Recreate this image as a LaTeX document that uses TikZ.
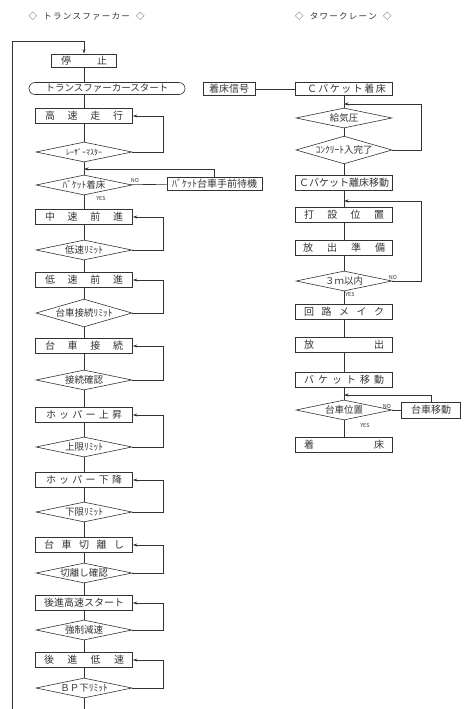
\documentclass[tikz,border=0pt]{standalone}
\usepackage{fontspec}
\setmainfont{Noto Sans CJK JP}
\usepackage{tikz}
\usetikzlibrary{arrows.meta,shapes.geometric}
\newcommand{\spread}[2]{\makebox[#1][s]{#2}}

\begin{document}
\begin{tikzpicture}[x=1pt, y=-1pt,
    proc/.style={draw, minimum width=97pt, minimum height=15pt, inner sep=1pt, font=\fontsize{10}{12}\selectfont},
    decision/.style={draw, diamond, minimum width=96pt, minimum height=20pt, inner xsep=-15pt, inner ysep=-4pt, font=\fontsize{9.5}{11}\selectfont},
    yn/.style={font=\fontsize{5.5}{6}\selectfont},
    color=black!80, line width=0.6pt,
    >={Stealth[length=4.5pt,width=3pt]}
]
\useasboundingbox (0,0) rectangle (463,709);

\node[font=\fontsize{8.5}{10}\selectfont] (ttlL) at (86,16) {\spread{115pt}{◇\hspace{5pt} ト ラ ン ス フ ァ ー カ ー \hspace{5pt}◇}};
\node[font=\fontsize{8.5}{10}\selectfont] (ttlR) at (341,16) {\spread{92pt}{◇\hspace{5pt} タ ワ ー ク レ ー ン \hspace{5pt}◇}};

\node[proc, minimum width=65pt, minimum height=13pt] (stop) at (84,60.5) {\spread{46pt}{停 止}};
\node[draw, rounded corners=6pt, minimum width=156pt, minimum height=12pt, inner sep=0pt, font=\fontsize{9.5}{11}\selectfont] (start) at (107,88.5) {トランスファーカースタート};
\node[proc] (fast) at (84,116) {\spread{78pt}{高 速 走 行}};
\node[decision, font=\fontsize{8}{9}\selectfont] (laser) at (84,152) {ﾚｰｻﾞｰﾏｽﾀｰ};
\node[decision] (bland) at (84,185) {ﾊﾞｹｯﾄ着床};
\node[proc, minimum width=95pt, minimum height=13pt] (wait) at (214.5,184) {ﾊﾞｹｯﾄ台車手前待機};
\node[proc] (mid) at (84,217) {\spread{78pt}{中 速 前 進}};
\node[decision] (lowlim) at (84,250) {低速ﾘﾐｯﾄ};
\node[proc] (low) at (84,280) {\spread{78pt}{低 速 前 進}};
\node[decision] (linklim) at (84,313) {台車接続ﾘﾐｯﾄ};
\node[proc] (link) at (84,346) {\spread{78pt}{台 車 接 続}};
\node[decision] (linkok) at (84,380) {接続確認};
\node[proc] (hopup) at (84,415) {\spread{76pt}{ホ ッ パ ー 上 昇}};
\node[decision] (uplim) at (84,447) {上限ﾘﾐｯﾄ};
\node[proc] (hopdn) at (84,480) {\spread{76pt}{ホ ッ パ ー 下 降}};
\node[decision] (dnlim) at (84,512) {下限ﾘﾐｯﾄ};
\node[proc] (cut) at (84,545) {\spread{80pt}{台 車 切 離 し}};
\node[decision] (cutok) at (84,573) {切離し確認};
\node[proc] (back) at (84,603) {後進高速スタート};
\node[decision] (brake) at (84,630) {強制減速};
\node[proc] (backlow) at (84,660) {\spread{80pt}{後 進 低 速}};
\node[decision] (bplim) at (84,688) {ＢＰ下ﾘﾐｯﾄ};

\coordinate (bj) at (84,169);
\coordinate (ltop) at (84,41);
\coordinate (lbot) at (12,709);
\coordinate (bot) at (84,709);

\draw (stop) -- (stop |- start.north);
\draw (start.south -| fast) -- (fast);
\foreach \a/\b in {fast/laser, laser/bland, bland/mid, mid/lowlim, lowlim/low, low/linklim, linklim/link, link/linkok, linkok/hopup, hopup/uplim, uplim/hopdn, hopdn/dnlim, dnlim/cut, cut/cutok, cutok/back, back/brake, brake/backlow, backlow/bplim}
    \draw (\a) -- (\b);
\draw (bplim) -- (bot);
\draw[->] (lbot) |- (ltop) -- (stop);

\foreach \d/\b in {laser/fast, lowlim/mid, linklim/low, linkok/link, uplim/hopup, dnlim/hopdn, cutok/cut, brake/back, bplim/backlow}
    \draw[->] (\d.east) -- +(31,0) |- (\b.east);

\draw (bland) -- (wait);
\draw[->] (wait.north) |- (bj);
\node[yn] (no1) at (135,180) {NO};
\node[yn] (yes1) at (101,198) {YES};

\node[proc, minimum width=52pt, minimum height=13pt] (sig) at (229,89) {着床信号};
\node[proc, minimum height=13pt] (cland) at (344,89) {\spread{74pt}{Ｃ バ ケ ッ ト 着 床}};
\node[decision] (air) at (344,118) {給気圧};
\node[decision] (conc) at (344,150) {ｺﾝｸﾘｰﾄ入完了};
\node[proc] (crise) at (344,183) {Ｃバケット離床移動};
\node[proc] (pour) at (344,215) {\spread{80pt}{打 設 位 置}};
\node[proc] (prep) at (344,248) {\spread{82pt}{放 出 準 備}};
\node[decision] (dist) at (344,281) {３ｍ以内};
\node[proc] (circ) at (344,312) {\spread{80pt}{回 路 メ イ ク}};
\node[proc] (rel) at (344,345) {\spread{80pt}{放 出}};
\node[proc] (bmove) at (344,380) {\spread{80pt}{バ ケ ッ ト 移 動}};
\node[decision] (cpos) at (344,410) {台車位置};
\node[proc, minimum width=59pt, minimum height=16pt] (cmove) at (431,410) {台車移動};
\node[proc] (land) at (344,445) {\spread{80pt}{着 床}};

\coordinate (rj1) at (344,104);
\coordinate (rj2) at (344,201);
\coordinate (rj3) at (344,395);

\draw (sig) -- (cland);
\foreach \a/\b in {cland/air, air/conc, conc/crise, crise/pour, pour/prep, prep/dist, dist/circ, circ/rel, rel/bmove, bmove/cpos, cpos/land}
    \draw (\a) -- (\b);
\draw[->] (conc.east) -- +(29,0) |- (rj1);
\draw[->] (dist.east) -- +(29,0) |- (rj2);
\draw (cpos) -- (cmove);
\draw[->] (cmove.north) |- (rj3);

\node[yn] (no2) at (393,277) {NO};
\node[yn] (yes2) at (350,294) {YES};
\node[yn] (no3) at (387,406) {NO};
\node[yn] (yes3) at (365,425) {YES};
\end{tikzpicture}
\end{document}
